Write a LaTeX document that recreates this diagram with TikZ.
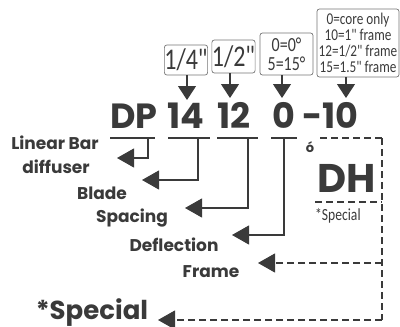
\documentclass[tikz,border=0pt]{standalone}
\usepackage{fontspec}
\setmainfont{Poppins}
\newfontfamily\narrowfont{Carlito}[FakeStretch=0.8]
\usetikzlibrary{arrows.meta, positioning}
\definecolor{ink}{HTML}{3A3A3A}

\begin{document}
\begin{tikzpicture}[x=1pt,y=-1pt,>={Triangle[length=17pt,width=19pt]},
	code/.style={font=\bfseries\fontsize{35}{35}\selectfont,text=ink,inner sep=0,anchor=base west},
	lbl/.style={font=\bfseries\fontsize{17}{17}\selectfont,text=ink,inner sep=0},
	opt/.style={draw=ink!70,line width=0.7pt,rounded corners=2.5pt,inner sep=0,align=center,text=ink},
	link/.style={draw=ink,line width=1.1pt},
	dashlink/.style={link,dash pattern=on 7pt off 4pt},
	down/.style={link,-{Triangle[length=14pt,width=18pt]}}]
	\useasboundingbox (0,0) rectangle (400,327);
	
	% code letters
	\node[code] (dp) at (110,128) {DP};
	\node[code] (n14) at (167,128) {14};
	\node[code] (n12) at (217,128) {12};
	\node[code] (n0) at (272,128) {0};
	\node[code] (n10) at (302,128) {-10};
	
	% option boxes
	\node[opt,minimum width=42pt,minimum height=30pt,font=\narrowfont\fontsize{30}{30}\selectfont] (b14) at (186,60) {1/4"};
	\node[opt,minimum width=43pt,minimum height=33pt,font=\narrowfont\fontsize{30}{30}\selectfont] (b12) at (233.5,56.5) {1/2"};
	\node[opt,minimum width=53pt,minimum height=42pt,font=\narrowfont\fontsize{20}{19}\selectfont] (b0) at (286.5,54) {0=0°\\5=15°};
	\node[opt,minimum width=82pt,minimum height=68pt,font=\narrowfont\fontsize{16.5}{16}\selectfont] (b10) at (358,43) {0=core only\\10=1" frame\\12=1/2" frame\\15=1.5" frame};
	
	\coordinate (t14) at (187,100);
	\coordinate (t12) at (230,98);
	\coordinate (t0) at (282,98);
	\coordinate (t10) at (346,98);
	\path (b14.south -| t14) edge[down] (t14);
	\path (b12.south -| t12) edge[down] (t12);
	\path (b0.south -| t0) edge[down] (t0);
	\path (b10.south -| t10) edge[down] (t10);
	
	% labels
	\node[lbl] (linear) at (55,143) {Linear Bar};
	\node[lbl] (diffuser) at (56,167) {diffuser};
	\node[lbl] (blade) at (102,193) {Blade};
	\node[lbl] (spacing) at (132,218) {Spacing};
	\node[lbl] (deflection) at (174,245) {Deflection};
	\node[lbl] (frame) at (211,272) {Frame};
	\node[lbl,font=\bfseries\fontsize{26}{26}\selectfont,anchor=base] (special) at (92,319) {*Special};
	
	% alternative code
	\node[font=\bfseries\fontsize{13}{13}\selectfont,text=ink,inner sep=0] (or) at (310,147) {ó};
	\node[code,font=\bfseries\fontsize{40}{40}\selectfont] (dh) at (317,192) {DH};
	\node[font=\narrowfont\fontsize{17}{17}\selectfont,text=ink,inner sep=0,anchor=west] (note) at (315,216) {*Special};
	
	% underlines and leaders
	\coordinate (kdp) at (148,138);
	\coordinate (k14) at (198,138);
	\coordinate (k12) at (248,138);
	\coordinate (k0) at (284,138);
	\coordinate (k10) at (382,138);
	\draw[link] (110,138) -- (155,138);
	\draw[link] (168,138) -- (210,138);
	\draw[link] (217,138) -- (258,138);
	\draw[link] (271,138) -- (297,138);
	\draw[dashlink] (320,138) -- (k10);
	\draw[dashlink] (315,202) -- (382,202);
	
	\coordinate (alinear) at (117,158);
	\coordinate (ablade) at (142,180);
	\coordinate (aspacing) at (185,208);
	\coordinate (adeflection) at (232,235);
	\coordinate (aframe) at (258,263);
	\coordinate (aspecial) at (158,320);
	\draw[link,->] (kdp) |- (alinear);
	\draw[link,->] (k14) |- (ablade);
	\draw[link,->] (k12) |- (aspacing);
	\draw[link,->] (k0) |- (adeflection);
	\draw[dashlink] (k10) -- (382,320);
	\draw[dashlink,->] (aframe -| k10) -- (aframe);
	\draw[dashlink,->] (aspecial -| k10) -- (aspecial);
\end{tikzpicture}
\end{document}
